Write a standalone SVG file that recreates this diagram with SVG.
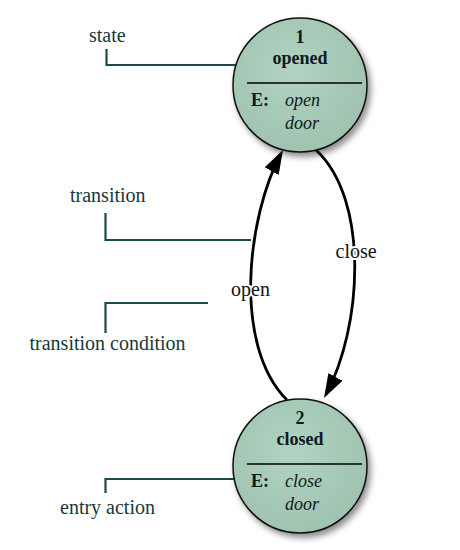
<svg xmlns="http://www.w3.org/2000/svg" width="460" height="550" viewBox="0 0 460 550">
<defs>
<radialGradient id="fill" cx="45%" cy="40%" r="65%">
<stop offset="0" stop-color="#b2d3c2"/>
<stop offset="1" stop-color="#9dc2ae"/>
</radialGradient>
<filter id="shadow" x="-20%" y="-20%" width="150%" height="150%">
<feDropShadow dx="3" dy="4" stdDeviation="3" flood-color="#000" flood-opacity="0.45"/>
</filter>
<marker id="arrow" markerUnits="userSpaceOnUse" markerWidth="24" markerHeight="16" viewBox="0 0 24 16" refX="20" refY="8" orient="auto">
<path d="M0,0 L24,8 L0,16 z" fill="#000"/>
</marker>
</defs>
<style>
.node circle{fill:url(#fill);stroke:#111;stroke-width:1.5;filter:url(#shadow)}
.div{stroke:#000;stroke-width:1.5}
.nt{font-family:"Liberation Serif",serif;font-size:18px;fill:#0e1a22}
.b{font-weight:bold}
.i{font-style:italic}
.lab{font-family:"Liberation Serif",serif;font-size:20px;fill:#173838}
.lead{fill:none;stroke:#1e4a4a;stroke-width:2.2}
.edge{fill:none;stroke:#000;stroke-width:2.8;marker-end:url(#arrow)}
.el{font-family:"Liberation Serif",serif;font-size:20px;fill:#111;stroke:#fff;stroke-width:4;paint-order:stroke;stroke-linejoin:round}
</style>

<g id="annotations">
<polyline class="lead" points="106.5,49 106.5,65 236,65"/>
<polyline class="lead" points="105.5,213 105.5,240 251,240"/>
<polyline class="lead" points="105.5,333 105.5,303 208,303"/>
<polyline class="lead" points="105.5,493 105.5,479 235,479"/>
<text class="lab" x="89" y="42">state</text>
<text class="lab" x="70" y="202">transition</text>
<text class="lab" x="29.5" y="350">transition condition</text>
<text class="lab" x="60" y="514">entry action</text>
</g>

<g id="connectors">
<path id="e-open" class="edge" d="M287,400 C232,345 247.4,216 281.1,153.5"/>
<path id="e-close" class="edge" d="M316,150 C370,200 362,328 325.9,394.5"/>
<text class="el" x="231" y="296">open</text>
<text class="el" x="335.5" y="258">close</text>
</g>

<g id="node-opened" class="node">
<circle cx="300" cy="85" r="67"/>
<line class="div" x1="247" y1="83" x2="362" y2="83"/>
<text class="nt b" x="300" y="43" text-anchor="middle">1</text>
<text class="nt b" x="300" y="64" text-anchor="middle">opened</text>
<text class="nt b" x="251" y="106">E:</text>
<text class="nt i" x="285" y="106">open</text>
<text class="nt i" x="285" y="129">door</text>
</g>

<g id="node-closed" class="node">
<circle cx="300" cy="466" r="67"/>
<line class="div" x1="247" y1="464" x2="362" y2="464"/>
<text class="nt b" x="300" y="424" text-anchor="middle">2</text>
<text class="nt b" x="300" y="445" text-anchor="middle">closed</text>
<text class="nt b" x="251" y="487">E:</text>
<text class="nt i" x="285" y="487">close</text>
<text class="nt i" x="285" y="510">door</text>
</g>
</svg>
